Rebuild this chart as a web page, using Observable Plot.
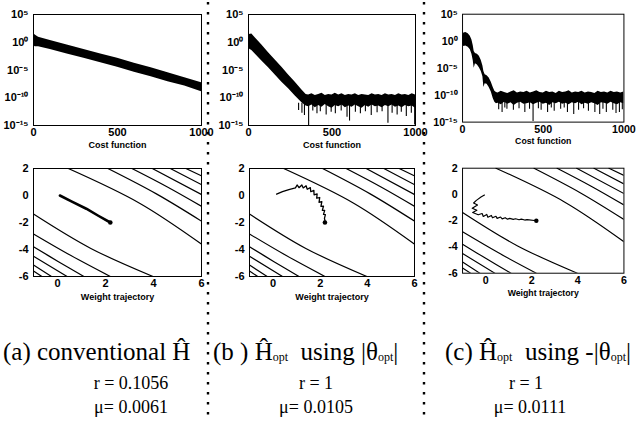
<!DOCTYPE html>
<html><head><meta charset="utf-8">
<script src="https://cdn.jsdelivr.net/npm/d3@7"></script>
<script src="https://cdn.jsdelivr.net/npm/@observablehq/plot@0.6"></script>
<style>
body{margin:0;background:#fff;}
#root{position:relative;width:639px;height:421px;overflow:hidden;background:#fff;}
.panel{position:absolute;}
.panel svg{overflow:visible;background:transparent;}
.cap{position:absolute;font-family:"Liberation Serif","Times New Roman",serif;color:#000;white-space:pre;line-height:1;}
.cap sub{font-size:0.48em;vertical-align:-0.12em;}
.ctr{transform:translateX(-50%);}
</style></head><body><div id="root"></div>
<script>
// ---------- tick values ----------
const iterTicks = [0, 500, 1000];
const costTickExps = [5, 0, -5, -10, -15];
const weightXTicks = [0, 2, 4, 6];
const weightYTicks = [2, 0, -2, -4, -6];

// ---------- top row: cost function (log10 exponents of band edges) ----------
const aIter = [0, 10, 30, 100, 200, 300, 400, 500, 600, 700, 800, 900, 1000];
const aHi   = [1.6, 1.3, 0.9, 0.3, -0.5, -1.3, -2.1, -2.9, -3.8, -4.6, -5.5, -6.4, -7.3];
const aLo   = [-0.6, -0.8, -0.8, -1.3, -2.1, -2.9, -3.7, -4.5, -5.4, -6.2, -7.1, -7.9, -8.9];

const bIter = [0,5,20,40,80,120,160,200,240,280,320,345,
  360,380,400,420,440,460,480,500,520,540,560,580,600,620,640,660,680,700,720,740,760,780,800,820,840,860,880,900,920,940,960,980,1000];
const bHi = [1.0,1.4,1.5,0.8,-0.5,-1.9,-3.2,-4.5,-5.9,-7.2,-8.6,-9.4,
  -9.5,-9.3,-9.6,-9.4,-9.2,-9.6,-9.4,-9.5,-9.2,-9.5,
  -9.3,-9.6,-9.4,-9.5,-9.3,-9.6,-9.4,-9.5,-9.6,-9.3,
  -9.5,-9.4,-9.6,-9.3,-9.5,-9.4,-9.6,-9.3,-9.5,-9.4,
  -9.6,-9.3,-9.5];
const bLo = [-0.6,-1.2,-1.5,-2.1,-3.4,-4.6,-5.9,-7.2,-8.4,-9.7,-10.9,-11.5,
  -11.6,-11.3,-11.8,-11.4,-11.7,-11.2,-11.6,-11.9,-11.4,-11.6,
  -11.3,-11.8,-11.5,-11.7,-11.3,-11.6,-11.9,-11.4,-11.7,-11.3,
  -11.6,-11.5,-11.8,-11.4,-11.6,-11.3,-11.7,-11.5,-11.8,-11.4,
  -11.6,-11.5,-11.9];
const bSpikeIter = [300,320,335,360,385,410,430,465,495,520,555,590,605,640,670,700,735,770,800,835,860,890,915,945,975,995];
const bSpikeLow  = [-12.3,-12.8,-13.2,-15,-12.4,-12.9,-12.5,-13.1,-12.6,-12.9,-12.4,-13.5,-14.2,-12.6,-12.9,-12.5,-13.2,-12.7,-12.5,-14.6,-12.8,-13.1,-12.6,-13.4,-12.8,-14.9];

const cIter = [0,8,20,35,48,58,66,72,80,92,104,116,126,132,140,152,165,178,190,200,210,
  220,240,260,280,300,320,340,360,380,400,420,440,460,480,500,520,540,560,580,600,
  620,640,660,680,700,720,740,760,780,800,820,840,860,880,900,920,940,960,980,1000];
const cHi = [1.0,1.5,1.6,1.4,0.9,0.2,-0.8,-1.9,-2.3,-2.4,-2.8,-3.6,-4.6,-5.6,-6.2,-6.4,-6.8,-7.6,-8.6,-9.3,-9.5,
  -9.6,-9.3,-9.5,-9.7,-9.4,-9.2,-9.6,-9.4,-9.5,-9.3,
  -9.6,-9.4,-9.2,-9.5,-9.6,-9.3,-9.5,-9.4,-9.7,-9.3,
  -9.5,-9.4,-9.2,-9.6,-9.4,-9.5,-9.3,-9.6,-9.4,-9.5,
  -9.7,-9.3,-9.5,-9.4,-9.6,-9.3,-9.5,-9.4,-9.6,-9.4];
const cLo = [-0.6,-1.0,-0.9,-1.1,-1.6,-2.4,-3.6,-5.0,-4.2,-4.4,-4.9,-5.6,-6.6,-8.6,-7.9,-8.0,-8.6,-9.4,-10.6,-11.3,-11.6,
  -11.5,-11.8,-11.3,-11.7,-11.4,-11.9,-11.5,-11.3,-11.7,-11.6,
  -11.4,-11.8,-11.5,-11.3,-11.7,-11.5,-11.9,-11.4,-11.6,-11.3,
  -11.7,-11.5,-11.8,-11.4,-11.6,-11.3,-11.8,-11.5,-11.7,-11.4,
  -11.6,-11.9,-11.4,-11.5,-11.7,-11.3,-11.6,-11.8,-11.4,-11.6];
const cSpikeIter = [224,245,262,275,315,350,386,415,437,470,487,527,550,568,608,630,650,689,719,750,780,820,850,870,891,931,951,972,990];
const cSpikeLow  = [-12.7,-13.2,-12.4,-12.6,-12.8,-12.5,-13.2,-12.6,-14.9,-12.5,-12.8,-13.2,-12.4,-13.0,-12.6,-12.4,-13.2,-13.6,-12.8,-12.5,-13.0,-13.2,-13.6,-12.6,-13.2,-12.8,-13.4,-13.2,-12.7];

// ---------- bottom row: contour lines and weight trajectories [w0, w1] ----------
const contourLines = [
  [[-1,-1.37],[1.39,-3.92],[3.98,-6]],
  [[-1,-2.85],[0.56,-4.45],[2.2,-6]],
  [[-1,-3.8],[0.04,-4.9],[1.1,-6]],
  [[-1,-4.5],[0.4,-6]],
  [[-1,-5.15],[-0.25,-6]],
  [[-1,-5.6],[-0.65,-6]],
  [[0.45,2],[3.42,-0.57],[6,-3.6]],
  [[2.1,2],[4.12,0.12],[6,-1.9]],
  [[3.1,2],[4.58,0.63],[6,-0.8]],
  [[3.95,2],[6,0.07]],
  [[4.7,2],[6,0.8]],
  [[5.35,2],[6,1.45]]
];
const optimum = [2.2, -2];
const trajA = [[0.1,0],[0.6,-0.45],[1.2,-0.98],[1.7,-1.5],[2.2,-2]];
const trajB = [[0.15,0.1],[0.4,0.28],[0.67,0.44],[0.95,0.56],[1.02,0.78],[1.1,0.58],[1.22,0.78],[1.28,0.56],[1.4,0.72],[1.45,0.46],[1.58,0.58],[1.6,0.28],[1.73,0.38],[1.74,0.05],[1.87,0.12],[1.85,-0.2],[1.98,-0.15],[1.95,-0.5],[2.07,-0.46],[2.03,-0.8],[2.14,-0.78],[2.09,-1.1],[2.19,-1.1],[2.14,-1.4],[2.22,-1.42],[2.18,-1.7],[2.22,-2.0]];
const trajC = [[-0.05,-0.05],[-0.2,-0.2],[-0.4,-0.45],[-0.52,-0.65],[-0.35,-0.8],[-0.58,-1.05],[-0.38,-1.2],[-0.56,-1.38],[-0.32,-1.55],[-0.15,-1.45],[-0.1,-1.68],[0.05,-1.52],[0.1,-1.74],[0.25,-1.6],[0.3,-1.78],[0.45,-1.66],[0.5,-1.82],[0.65,-1.72],[0.72,-1.86],[0.85,-1.77],[0.95,-1.88],[1.05,-1.82],[1.2,-1.9],[1.3,-1.85],[1.45,-1.93],[1.55,-1.88],[1.7,-1.95],[1.8,-1.92],[2.2,-2.0]];

// ---------- helpers ----------
const root = document.getElementById("root");
const supMap = {"0":"⁰","1":"¹","2":"²","3":"³","4":"⁴","5":"⁵","6":"⁶","7":"⁷","8":"⁸","9":"⁹","-":"⁻"};
const sup = s => String(s).split("").map(c => supMap[c]).join("");
const axisStyle = {fontFamily:"'Liberation Sans', Arial, sans-serif", fontSize:"11px", fontWeight:"bold", background:"transparent", color:"#000"};

function place(el, left, top){
  const d = document.createElement("div");
  d.className = "panel"; d.style.left = left+"px"; d.style.top = top+"px";
  d.appendChild(el); root.appendChild(d);
}

function band(iter, hi, lo){ return iter.map((x,i)=>({x, hi: 10**hi[i], lo: 10**lo[i]})); }
function spikes(iter, low){ return iter.map((x,i)=>({x, top: 1e-11, bottom: 10**low[i]})); }

function topChart(fr, bandRows, spikeRows){
  const ml=34, mr=16, mt=10, mb=36;
  const chart = Plot.plot({
    width: fr.w+ml+mr, height: fr.h+mt+mb,
    marginLeft: ml, marginRight: mr, marginTop: mt, marginBottom: mb,
    style: axisStyle,
    x: {domain:[0,1000], ticks: iterTicks, tickSize:0, tickPadding:3, tickFormat: d=>String(d), label:null},
    y: {type:"log", domain:[1e-15,1e5], ticks: costTickExps.map(e=>10**e),
        tickFormat: d => "10" + sup(Math.round(Math.log10(d))), tickSize:0, tickPadding:5, label:null},
    marks: [
      Plot.areaY(bandRows, {x:"x", y1:"lo", y2:"hi", fill:"#000", clip:true}),
      spikeRows ? Plot.ruleX(spikeRows, {x:"x", y1:"top", y2:"bottom", stroke:"#000", strokeWidth:1.1, clip:true}) : null,
      Plot.frame({stroke:"#000", strokeWidth:1}),
      Plot.text(["Cost function"], {frameAnchor:"bottom", dy:22, fontSize:9, fontWeight:"bold"})
    ]
  });
  place(chart, fr.x-ml, fr.y-mt);
}

function botChart(fr, traj, trajWidth){
  const ml=34, mr=16, mt=10, mb=36;
  const lines = contourLines.flatMap((pts, k) => pts.map(p => ({k, w0:p[0], w1:p[1]})));
  const path = traj.map(p => ({w0:p[0], w1:p[1]}));
  const chart = Plot.plot({
    width: fr.w+ml+mr, height: fr.h+mt+mb,
    marginLeft: ml, marginRight: mr, marginTop: mt, marginBottom: mb,
    style: axisStyle,
    x: {domain:[-1,6], ticks: weightXTicks, tickSize:0, tickPadding:3, tickFormat: d=>String(d), label:null},
    y: {domain:[-6,2], ticks: weightYTicks, tickSize:0, tickPadding:5, tickFormat: d=>String(d), label:null},
    marks: [
      Plot.line(lines, {x:"w0", y:"w1", z:"k", stroke:"#000", strokeWidth:1.2, curve:"catmull-rom", clip:true}),
      Plot.line(path, {x:"w0", y:"w1", stroke:"#000", strokeWidth:trajWidth, clip:true}),
      Plot.dot([optimum], {x:d=>d[0], y:d=>d[1], r:2.3, fill:"#000"}),
      Plot.frame({stroke:"#000", strokeWidth:1}),
      Plot.text(["Weight trajectory"], {frameAnchor:"bottom", dy:23, fontSize:9, fontWeight:"bold"})
    ]
  });
  place(chart, fr.x-ml, fr.y-mt);
}

topChart({x:33, y:14, w:168, h:111}, band(aIter,aHi,aLo), null);
topChart({x:248, y:14, w:167, h:111}, band(bIter,bHi,bLo), spikes(bSpikeIter,bSpikeLow));
topChart({x:463, y:14, w:166, h:111}, band(cIter,cHi,cLo), spikes(cSpikeIter,cSpikeLow));
botChart({x:33, y:168, w:168, h:108}, trajA, 2.6);
botChart({x:249, y:168, w:165, h:108}, trajB, 1.3);
botChart({x:463, y:168, w:166, h:108}, trajC, 1.2);

// dotted separators
const ns = "http://www.w3.org/2000/svg";
const sep = document.createElementNS(ns, "svg");
sep.setAttribute("width", 639); sep.setAttribute("height", 421);
sep.style.position = "absolute"; sep.style.left = "0"; sep.style.top = "0"; sep.style.pointerEvents = "none";
[208, 424].forEach(x => {
  const l = document.createElementNS(ns, "line");
  l.setAttribute("x1", x); l.setAttribute("x2", x); l.setAttribute("y1", 2); l.setAttribute("y2", 421);
  l.setAttribute("stroke", "#000"); l.setAttribute("stroke-width", 2.4);
  l.setAttribute("stroke-dasharray", "2.4 7.6");
  sep.appendChild(l);
});
root.appendChild(sep);

// captions
function cap(html, left, top, size, centered){
  const d = document.createElement("div");
  d.className = "cap" + (centered ? " ctr" : "");
  d.style.left = left+"px"; d.style.top = top+"px"; d.style.fontSize = size+"px";
  d.innerHTML = html; root.appendChild(d);
}
cap("(a) conventional Ĥ", 3, 339, 25, false);
cap("(b ) Ĥ<sub>opt</sub>  using |θ<sub>opt</sub>|", 213, 339, 25, false);
cap("(c) Ĥ<sub>opt</sub>  using -|θ<sub>opt</sub>|", 445, 339, 25, false);
cap("r = 0.1056", 131, 374, 18, true);
cap("μ= 0.0061", 131, 398, 18, true);
cap("r = 1", 316, 374, 18, true);
cap("μ= 0.0105", 316, 398, 18, true);
cap("r = 1", 526, 374, 18, true);
cap("μ= 0.0111", 530, 398, 18, true);
</script>
</body></html>
